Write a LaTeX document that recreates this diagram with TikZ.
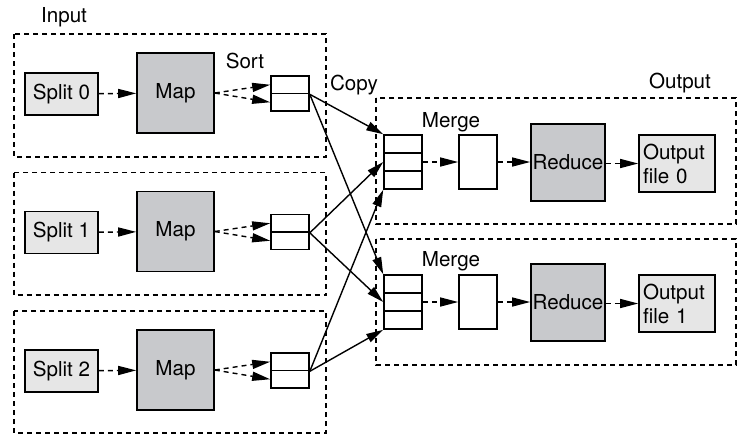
\documentclass[tikz,border=0pt]{standalone}
\usepackage{fontspec}
\setmainfont{TeX Gyre Heros}
\usetikzlibrary{arrows.meta}
\definecolor{mapgray}{HTML}{C8C9CC}
\definecolor{splitgray}{HTML}{E6E6E6}
\tikzset{
  every node/.style={font=\fontsize{10.3}{12}\selectfont, inner sep=0pt},
  box/.style={draw, line width=0.8pt, anchor=center},
  splitbox/.style={box, fill=splitgray, minimum width=36.5pt, minimum height=21pt},
  mapbox/.style={box, fill=mapgray, minimum width=38.5pt, minimum height=40pt},
  redbox/.style={box, fill=mapgray, minimum width=37pt, minimum height=38.5pt},
  cellsort/.style={box, fill=white, minimum width=19pt, minimum height=8.75pt},
  cellmerge/.style={box, fill=white, minimum width=19pt, minimum height=9pt},
  mergebox/.style={box, fill=white, minimum width=19pt, minimum height=27pt},
  outbox/.style={box, fill=splitgray, minimum width=38pt, minimum height=28.5pt, align=left, text width=34pt},
  group/.style={draw, line width=0.6pt, dash pattern=on 2.5pt off 2pt},
  flow/.style={line width=0.7pt, dash pattern=on 2.5pt off 2pt, -{Triangle[length=9pt,width=4.5pt]}},
  copyarrow/.style={line width=0.7pt, -{Triangle[length=8.5pt,width=4.5pt]}},
  lbl/.style={anchor=center}
}
\begin{document}
\begin{tikzpicture}[x=0.5pt,y=-0.5pt]
\useasboundingbox (0,0) rectangle (750,441);
% group boxes
\draw[group] (14,34) rectangle (326,157);
\draw[group] (14,172.5) rectangle (326,295);
\draw[group] (14,311) rectangle (326,433);
\draw[group] (376,98) rectangle (736,224);
\draw[group] (376,239) rectangle (736,365);
% labels
\node[lbl] (linput) at (64,17) {Input};
\node[lbl] (lsort) at (245,61) {Sort};
\node[lbl] (lcopy) at (354,85) {Copy};
\node[lbl] (loutput) at (680,83) {Output};
\node[lbl] (lmerge0) at (451,122) {Merge};
\node[lbl] (lmerge1) at (451,261) {Merge};
% map side
\foreach \i/\dy in {0/0,1/138.5,2/277}{
  \node[splitbox] (split\i) at (61.5,94+\dy) {Split \i};
  \node[mapbox] (map\i) at (175.5,93+\dy) {Map};
  \node[cellsort] (s\i a) at (290,84.75+\dy) {};
  \node[cellsort] (s\i b) at (290,102.25+\dy) {};
  \draw[flow] (split\i) -- (map\i);
  \draw[flow] (map\i.east) -- (s\i a.west);
  \draw[flow] (map\i.east) -- (s\i b.west);
}
% reduce side
\foreach \j/\dy in {0/0,1/140}{
  \node[cellmerge] (m\j a) at (403,144+\dy) {};
  \node[cellmerge] (m\j b) at (403,162+\dy) {};
  \node[cellmerge] (m\j c) at (403,180+\dy) {};
  \node[mergebox] (mb\j) at (478,162+\dy) {};
  \node[redbox] (red\j) at (568,162.5+\dy) {Reduce};
  \node[outbox] (out\j) at (677,163.5+\dy) {Output\\file \j};
  \draw[flow] (m\j b.east) -- (mb\j.west);
  \draw[flow] (mb\j.east) -- (mb\j.east -| red\j.west);
  \draw[flow] (red\j.east |- out\j.west) -- (out\j.west);
}
% copy arrows
\foreach \j in {0,1}{
  \draw[copyarrow] (s0a.south east) -- (m\j a.north west);
  \draw[copyarrow] (s1a.south east) -- (m\j b.west);
  \draw[copyarrow] (s2a.south east) -- (m\j c.south west);
}
\end{tikzpicture}
\end{document}
